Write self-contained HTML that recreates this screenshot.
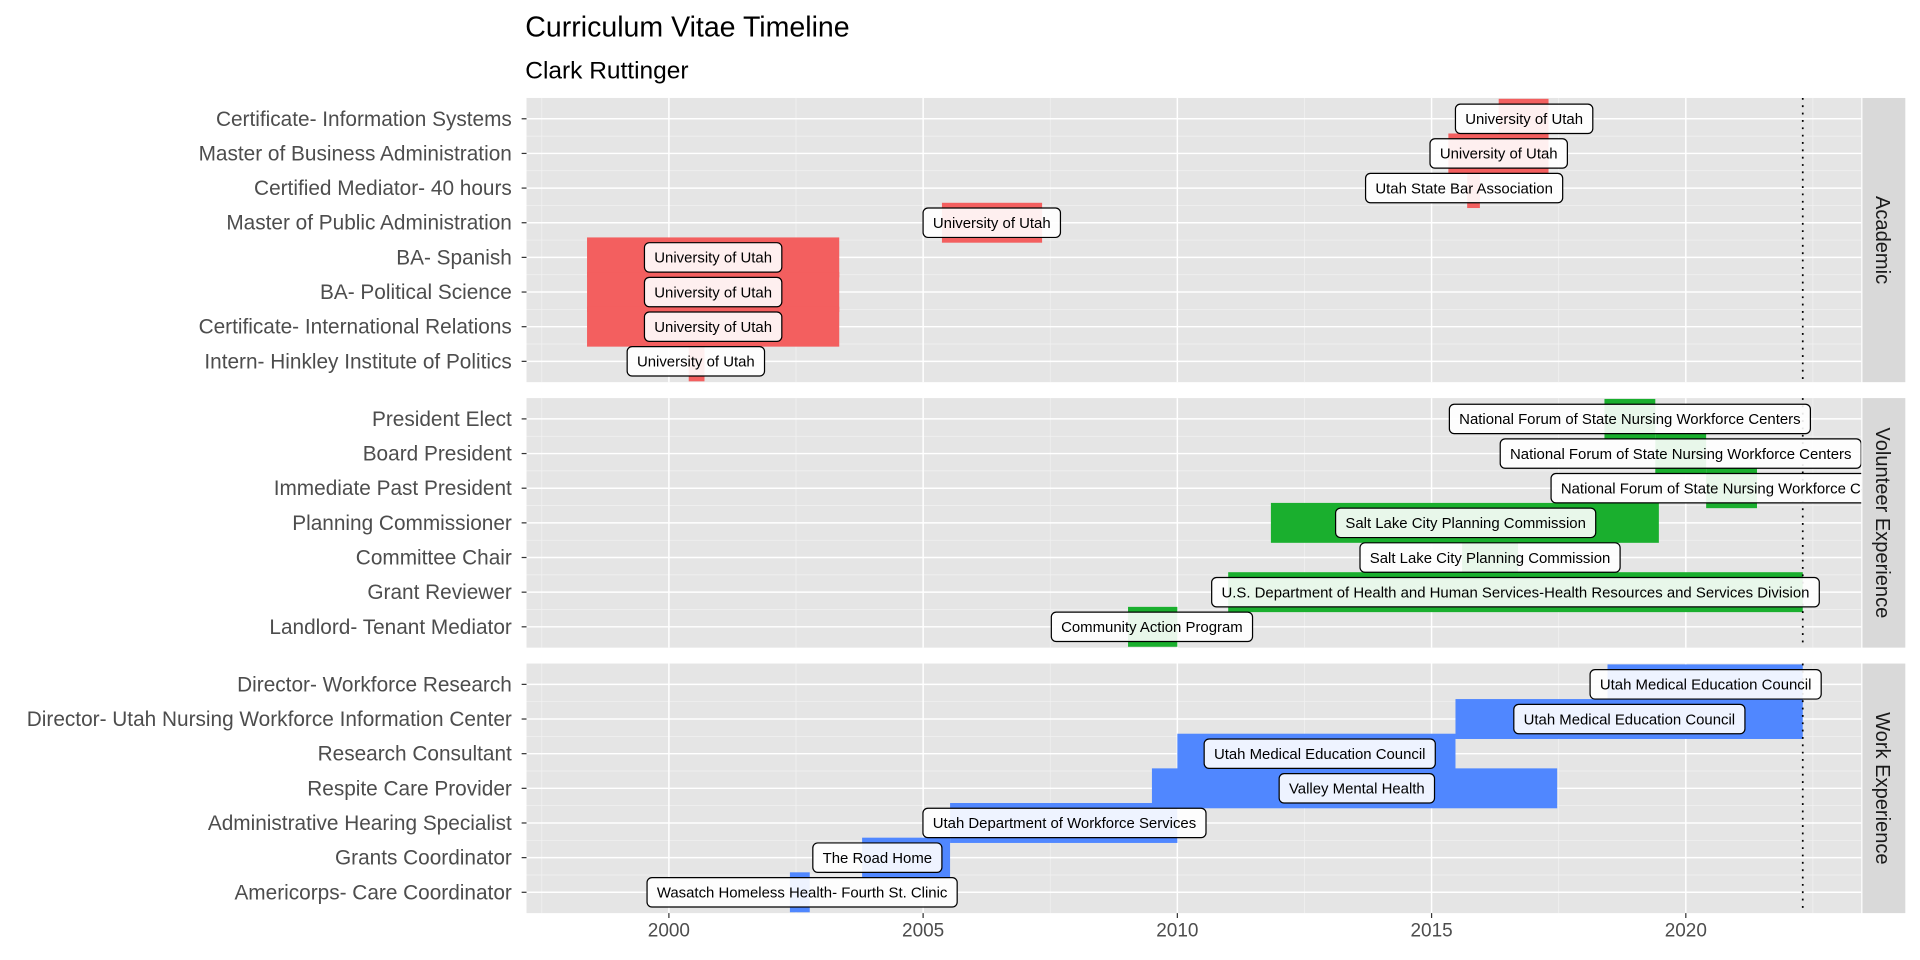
<!DOCTYPE html>
<html><head><meta charset="utf-8">
<style>
html,body{margin:0;padding:0;background:#fff;}
svg{display:block;font-family:"Liberation Sans",Arial,sans-serif;}
</style></head>
<body>
<svg id="chart" width="1920" height="960" viewBox="0 0 1568 784" xmlns="http://www.w3.org/2000/svg">
<text x="429" y="30" font-size="23.3" fill="#000">Curriculum Vitae Timeline</text>
<text x="429" y="64" font-size="20" fill="#000">Clark Ruttinger</text>
<defs><clipPath id="pclip"><rect x="430" y="0" width="1090" height="784"/></clipPath></defs>
<g id="panels"></g>
</svg>
<script>
// ---- data ----
const groups = ["Academic","Volunteer Experience","Work Experience"];
const acadRoles = ["Certificate- Information Systems","Master of Business Administration","Certified Mediator- 40 hours","Master of Public Administration","BA- Spanish","BA- Political Science","Certificate- International Relations","Intern- Hinkley Institute of Politics"];
const acadOrgs = ["University of Utah","University of Utah","Utah State Bar Association","University of Utah","University of Utah","University of Utah","University of Utah","University of Utah"];
const acadStart = [2016.32,2015.33,2015.70,2005.37,1998.39,1998.39,1998.39,2000.39];
const acadEnd   = [2017.30,2017.30,2015.95,2007.34,2003.35,2003.35,2003.35,2000.70];
const acadLabelX = [2016.82,2016.32,2015.64,2006.35,2000.87,2000.87,2000.87,2000.53];
const volRoles = ["President Elect","Board President","Immediate Past President","Planning Commissioner","Committee Chair","Grant Reviewer","Landlord- Tenant Mediator"];
const volOrgs = ["National Forum of State Nursing Workforce Centers","National Forum of State Nursing Workforce Centers","National Forum of State Nursing Workforce Centers","Salt Lake City Planning Commission","Salt Lake City Planning Commission","U.S. Department of Health and Human Services-Health Resources and Services Division","Community Action Program"];
const volStart = [2018.40,2019.40,2020.40,2011.84,2015.60,2011.00,2009.03];
const volEnd   = [2019.40,2020.40,2021.40,2019.47,2016.70,2022.30,2010.00];
const volLabelX = [2018.90,2019.90,2020.90,2015.67,2016.15,2016.65,2009.50];
const workRoles = ["Director- Workforce Research","Director- Utah Nursing Workforce Information Center","Research Consultant","Respite Care Provider","Administrative Hearing Specialist","Grants Coordinator","Americorps- Care Coordinator"];
const workOrgs = ["Utah Medical Education Council","Utah Medical Education Council","Utah Medical Education Council","Valley Mental Health","Utah Department of Workforce Services","The Road Home","Wasatch Homeless Health- Fourth St. Clinic"];
const workStart = [2018.46,2015.47,2010.00,2009.50,2005.53,2003.80,2002.38];
const workEnd   = [2022.30,2022.30,2015.47,2017.47,2010.00,2005.53,2002.77];
const workLabelX = [2020.39,2018.89,2012.80,2013.53,2007.78,2004.10,2002.62];
const xTicks = [2000,2005,2010,2015,2020];
const todayLine = 2022.3;

// ---- layout ----
const NS="http://www.w3.org/2000/svg";
const PX0=430, PX1=1520, XMIN=1997.2, XMAX=2023.45;
const xs = v => PX0 + (v-XMIN)/(XMAX-XMIN)*(PX1-PX0);
const ROW=28.3, PAD=17, GAP=13;
const colors=["#F35F5F","#1AAF2E","#5087FF"];
const panelsData=[
 {roles:acadRoles,orgs:acadOrgs,s:acadStart,e:acadEnd,lx:acadLabelX,key:"academic"},
 {roles:volRoles,orgs:volOrgs,s:volStart,e:volEnd,lx:volLabelX,key:"volunteer"},
 {roles:workRoles,orgs:workOrgs,s:workStart,e:workEnd,lx:workLabelX,key:"work"}];
const root=document.getElementById('panels');
function mk(tag,attrs,parent){const el=document.createElementNS(NS,tag);for(const k in attrs)el.setAttribute(k,attrs[k]);(parent||root).appendChild(el);return el;}
let curTop=80;
panelsData.forEach((p,pi)=>{
  const n=p.roles.length, h=(n-1)*ROW+2*PAD, bottom=curTop+h;
  const pTop=curTop;
  const ys=i=>pTop+PAD+i*ROW;
  const g=mk('g',{});
  
  
  const bg=mk('rect',{x:PX0,y:pTop,width:PX1-PX0,height:h,fill:"#e5e5e5"},g);
  
  
  for(let v=1997.5; v<XMAX; v+=5){const l=mk('line',{x1:xs(v),x2:xs(v),y1:pTop,y2:bottom,stroke:"#f2f2f2","stroke-width":0.6},g);
    }
  for(let i=0;i<n-1;i++){const y=ys(i)+ROW/2;const l=mk('line',{x1:PX0,x2:PX1,y1:y,y2:y,stroke:"#f2f2f2","stroke-width":0.6},g);
    }
  xTicks.forEach(v=>{const l=mk('line',{x1:xs(v),x2:xs(v),y1:pTop,y2:bottom,stroke:"#fff","stroke-width":1.2},g);
    });
  for(let i=0;i<n;i++){const l=mk('line',{x1:PX0,x2:PX1,y1:ys(i),y2:ys(i),stroke:"#fff","stroke-width":1.2},g);
    }
  for(let i=0;i<n;i++){const b=mk('rect',{x:xs(p.s[i]),y:ys(i)-16.3,width:Math.max(0.5,xs(p.e[i])-xs(p.s[i])),height:32.6,fill:colors[pi]},g);
    }
  const tl=mk('line',{x1:xs(todayLine),x2:xs(todayLine),y1:pTop,y2:bottom,stroke:"#000","stroke-width":1.4,"stroke-dasharray":"1.5 4.5"},g);
  
  const lg=mk('g',{"clip-path":"url(#pclip)"},g);
  for(let i=0;i<n;i++){
    const lab=mk('g',{},lg);
    
    const t=mk('text',{x:xs(p.lx[i]),y:ys(i)+4.3,"font-size":12.2,"text-anchor":"middle",fill:"#000"},lab);
    t.textContent=p.orgs[i];
    let w=t.getComputedTextLength();
    if(!w) w=p.orgs[i].length*6.5;
    w+=16;
    const r=mk('rect',{x:xs(p.lx[i])-w/2,y:ys(i)-12,width:w,height:24,rx:4,ry:4,fill:"#fff","fill-opacity":0.9,stroke:"#000","stroke-width":1},lab);
    lab.insertBefore(r,t);
  }
  for(let i=0;i<n;i++){
    const tk=mk('line',{x1:426,x2:430,y1:ys(i),y2:ys(i),stroke:"#333","stroke-width":1});
    
    const t=mk('text',{x:418,y:ys(i)+5.7,"font-size":17,"text-anchor":"end",fill:"#4d4d4d"});
    
    t.textContent=p.roles[i];
  }
  const st=mk('rect',{x:1521,y:pTop,width:35,height:h,fill:"#d9d9d9"});
  
  const stt=mk('text',{x:0,y:0,"font-size":16.4,fill:"#1a1a1a","text-anchor":"middle",transform:`translate(1532,${pTop+h/2}) rotate(90)`});
  
  stt.textContent=groups[pi];
  curTop=bottom+GAP;
});
const axBottom=curTop-GAP;
xTicks.forEach(v=>{
  const tk=mk('line',{x1:xs(v),x2:xs(v),y1:axBottom,y2:axBottom+4,stroke:"#333","stroke-width":1});
  
  const t=mk('text',{x:xs(v),y:axBottom+19,"font-size":15.5,"text-anchor":"middle",fill:"#4d4d4d"});
  
  t.textContent=v;
});
</script>
</body></html>
